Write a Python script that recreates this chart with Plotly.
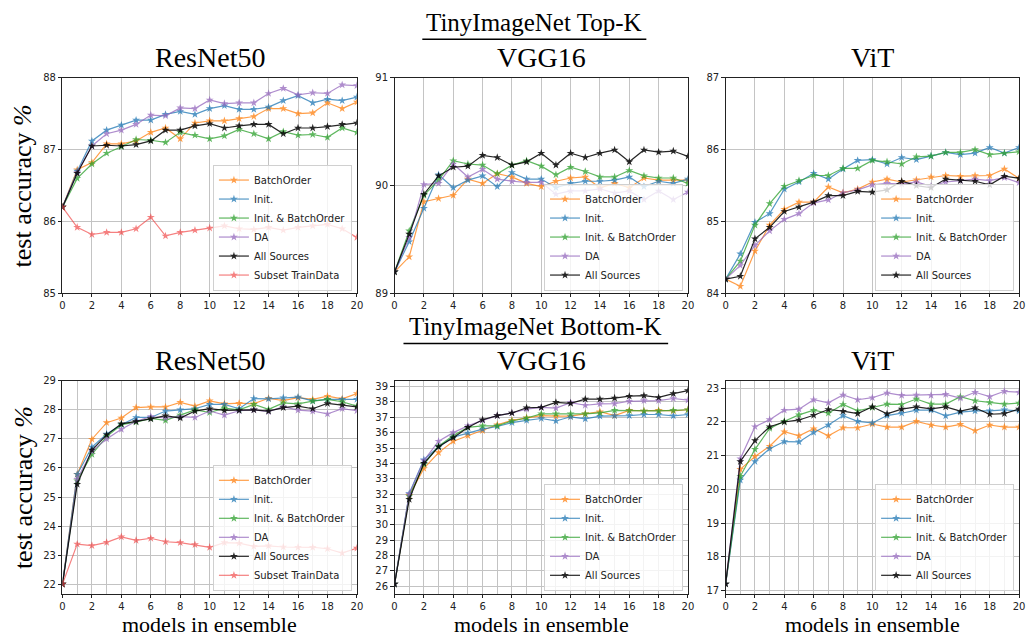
import plotly.graph_objects as go

W, H = 1032, 639
models = list(range(21))

# ---------------- TinyImageNet Top-K ----------------
top_resnet_batchorder = [86.20, 86.72, 86.82, 87.08, 87.08, 87.12, 87.24, 87.30, 87.15, 87.37, 87.40,
                         87.40, 87.43, 87.46, 87.57, 87.57, 87.50, 87.51, 87.65, 87.57, 87.66]
top_resnet_init = [86.20, 86.70, 87.12, 87.27, 87.34, 87.41, 87.41, 87.49, 87.53, 87.49, 87.57,
                   87.61, 87.56, 87.56, 87.59, 87.68, 87.75, 87.65, 87.70, 87.68, 87.73]
top_resnet_init_batch = [86.20, 86.60, 86.80, 86.95, 87.04, 87.14, 87.13, 87.10, 87.24, 87.20, 87.15,
                         87.19, 87.28, 87.22, 87.15, 87.25, 87.20, 87.21, 87.17, 87.30, 87.24]
top_resnet_da = [86.20, 86.68, 87.05, 87.22, 87.27, 87.35, 87.48, 87.47, 87.58, 87.57, 87.69,
                 87.64, 87.65, 87.65, 87.78, 87.85, 87.76, 87.79, 87.78, 87.90, 87.89]
top_resnet_all = [86.20, 86.67, 87.05, 87.06, 87.05, 87.07, 87.12, 87.27, 87.27, 87.33, 87.36,
                  87.30, 87.33, 87.35, 87.35, 87.22, 87.30, 87.30, 87.32, 87.35, 87.37]
top_resnet_subset = [86.20, 85.92, 85.82, 85.85, 85.85, 85.90, 86.06, 85.80, 85.85, 85.88, 85.91,
                     85.94, 85.90, 85.89, 85.92, 85.88, 85.92, 85.94, 85.96, 85.90, 85.78]

top_vgg_batchorder = [89.20, 89.34, 89.85, 89.88, 89.91, 90.06, 90.02, 90.11, 90.08, 90.02, 89.99,
                      90.04, 90.07, 90.08, 89.98, 90.02, 89.98, 90.07, 90.05, 90.05, 90.05]
top_vgg_init = [89.20, 89.48, 89.79, 90.10, 89.98, 90.05, 90.09, 89.99, 90.12, 90.06, 90.06,
                89.98, 90.02, 90.04, 90.04, 90.05, 90.08, 89.99, 90.04, 90.02, 90.06]
top_vgg_init_batch = [89.20, 89.58, 89.91, 90.05, 90.23, 90.20, 90.19, 90.11, 90.19, 90.23, 90.18,
                      90.10, 90.17, 90.13, 90.08, 90.08, 90.14, 90.09, 90.07, 90.07, 90.02]
top_vgg_da = [89.20, 89.52, 90.01, 90.02, 90.20, 90.08, 90.15, 90.06, 90.04, 90.03, 90.03,
              89.92, 89.95, 89.95, 89.97, 89.93, 89.95, 89.87, 89.95, 89.87, 89.94]
top_vgg_all = [89.20, 89.55, 89.92, 90.09, 90.17, 90.18, 90.28, 90.26, 90.19, 90.22, 90.30,
               90.19, 90.30, 90.26, 90.30, 90.33, 90.22, 90.33, 90.31, 90.32, 90.27]

top_vit_batchorder = [84.20, 84.10, 84.59, 84.95, 85.17, 85.27, 85.27, 85.48, 85.40, 85.45, 85.55,
                      85.59, 85.55, 85.58, 85.62, 85.64, 85.63, 85.64, 85.64, 85.73, 85.60]
top_vit_init = [84.20, 84.55, 84.99, 85.11, 85.45, 85.55, 85.67, 85.59, 85.73, 85.85, 85.86,
                85.80, 85.89, 85.86, 85.91, 85.96, 85.93, 85.95, 86.03, 85.95, 86.03]
top_vit_init_batch = [84.20, 84.45, 84.95, 85.25, 85.49, 85.57, 85.64, 85.64, 85.74, 85.74, 85.85,
                      85.83, 85.80, 85.90, 85.91, 85.96, 85.96, 86.00, 85.93, 85.95, 85.97]
top_vit_da = [84.20, 84.39, 84.67, 84.87, 85.03, 85.11, 85.26, 85.30, 85.40, 85.44, 85.51,
              85.53, 85.52, 85.55, 85.49, 85.55, 85.57, 85.59, 85.57, 85.61, 85.54]
top_vit_all = [84.20, 84.24, 84.76, 84.92, 85.14, 85.20, 85.27, 85.36, 85.36, 85.42, 85.41,
               85.44, 85.56, 85.50, 85.47, 85.59, 85.57, 85.56, 85.51, 85.63, 85.60]

# ---------------- TinyImageNet Bottom-K ----------------
bot_resnet_batchorder = [22.00, 25.78, 26.99, 27.56, 27.72, 28.08, 28.10, 28.10, 28.26, 28.13, 28.31,
                         28.21, 28.23, 28.21, 28.40, 28.32, 28.42, 28.36, 28.47, 28.38, 28.56]
bot_resnet_init = [22.00, 25.78, 26.72, 27.17, 27.49, 27.74, 27.74, 27.96, 28.00, 28.04, 28.19,
                   28.19, 28.04, 28.39, 28.38, 28.42, 28.44, 28.31, 28.36, 28.36, 28.36]
bot_resnet_init_batch = [22.00, 25.56, 26.47, 27.08, 27.49, 27.58, 27.71, 27.64, 27.82, 28.00, 27.91,
                         28.06, 28.00, 28.19, 28.02, 28.24, 28.21, 28.30, 28.36, 28.28, 28.13]
bot_resnet_da = [22.00, 25.61, 26.58, 27.00, 27.33, 27.61, 27.77, 27.72, 27.77, 27.74, 27.96,
                 27.82, 27.97, 28.00, 27.94, 28.11, 27.99, 27.96, 27.86, 28.04, 27.97]
bot_resnet_all = [22.00, 25.44, 26.62, 27.14, 27.52, 27.60, 27.69, 27.80, 27.72, 27.96, 28.04,
                  27.98, 27.98, 28.00, 27.96, 28.08, 28.13, 28.04, 28.22, 28.17, 28.10]
bot_resnet_subset = [22.00, 23.38, 23.33, 23.44, 23.63, 23.51, 23.58, 23.46, 23.43, 23.36, 23.27,
                     23.43, 23.41, 23.30, 23.32, 23.28, 23.27, 23.27, 23.22, 23.07, 23.24]

bot_vgg_batchorder = [26.15, 31.93, 33.67, 34.70, 35.44, 35.81, 36.13, 36.51, 36.80, 36.97, 37.11,
                      37.07, 37.07, 37.22, 37.36, 37.11, 37.45, 37.41, 37.45, 37.41, 37.49]
bot_vgg_init = [26.15, 32.04, 34.24, 35.08, 35.71, 35.98, 36.23, 36.40, 36.65, 36.80, 36.92,
                36.76, 37.03, 36.90, 37.07, 37.09, 37.11, 37.18, 37.18, 37.09, 37.18]
bot_vgg_init_batch = [26.15, 31.87, 33.93, 35.12, 35.81, 36.34, 36.44, 36.44, 36.76, 36.95, 37.22,
                      37.22, 37.22, 37.22, 37.28, 37.45, 37.43, 37.41, 37.41, 37.45, 37.49]
bot_vgg_da = [26.15, 32.00, 34.18, 35.44, 36.00, 36.44, 36.80, 37.11, 37.28, 37.53, 37.64,
              37.60, 37.95, 37.78, 37.87, 37.89, 38.04, 38.08, 38.08, 38.22, 38.12]
bot_vgg_all = [26.15, 31.66, 34.01, 35.08, 35.67, 36.34, 36.84, 37.11, 37.28, 37.62, 37.64,
               37.97, 37.91, 38.18, 38.18, 38.25, 38.37, 38.41, 38.29, 38.54, 38.73]

bot_vit_batchorder = [17.20, 20.60, 20.98, 21.28, 21.71, 21.59, 21.80, 21.59, 21.83, 21.83, 21.94,
                      21.85, 21.85, 22.02, 21.91, 21.85, 21.93, 21.74, 21.91, 21.85, 21.85]
bot_vit_init = [17.20, 20.28, 20.83, 21.21, 21.42, 21.41, 21.69, 21.91, 22.19, 22.02, 21.97,
                22.19, 22.26, 22.35, 22.35, 22.18, 22.29, 22.33, 22.33, 22.36, 22.33]
bot_vit_init_batch = [17.20, 20.39, 21.19, 21.81, 22.02, 22.21, 22.35, 22.26, 22.52, 22.33, 22.43,
                      22.53, 22.52, 22.68, 22.53, 22.53, 22.75, 22.63, 22.58, 22.53, 22.56]
bot_vit_da = [17.20, 20.91, 21.86, 22.07, 22.35, 22.38, 22.66, 22.57, 22.80, 22.66, 22.72,
              22.86, 22.79, 22.80, 22.79, 22.82, 22.71, 22.88, 22.75, 22.91, 22.88]
bot_vit_all = [17.20, 20.83, 21.45, 21.86, 22.00, 22.06, 22.20, 22.37, 22.32, 22.25, 22.45,
               22.24, 22.38, 22.45, 22.39, 22.45, 22.32, 22.42, 22.23, 22.25, 22.38]

series_names = ["BatchOrder", "Init.", "Init. & BatchOrder", "DA", "All Sources", "Subset TrainData"]
series_colors = ["#ff7f0e", "#1f77b4", "#2ca02c", "#9467bd", "#000000", "#f03c3c"]
series_opacity = [0.75, 0.75, 0.75, 0.75, 0.85, 0.65]

panel_titles = ["ResNet50", "VGG16", "ViT", "ResNet50", "VGG16", "ViT"]
panel_series = [
    [top_resnet_batchorder, top_resnet_init, top_resnet_init_batch, top_resnet_da, top_resnet_all, top_resnet_subset],
    [top_vgg_batchorder, top_vgg_init, top_vgg_init_batch, top_vgg_da, top_vgg_all],
    [top_vit_batchorder, top_vit_init, top_vit_init_batch, top_vit_da, top_vit_all],
    [bot_resnet_batchorder, bot_resnet_init, bot_resnet_init_batch, bot_resnet_da, bot_resnet_all, bot_resnet_subset],
    [bot_vgg_batchorder, bot_vgg_init, bot_vgg_init_batch, bot_vgg_da, bot_vgg_all],
    [bot_vit_batchorder, bot_vit_init, bot_vit_init_batch, bot_vit_da, bot_vit_all],
]
panel_yrange = [[85, 88], [89, 91], [84, 87], [21.67, 29.0], [25.52, 39.37], [16.91, 23.22]]

# axis boxes in pixels: (left, right) per column, (top, bottom) per row
col_px = [(60, 357), (395, 691), (729, 1025)]
row_px = [(73, 293), (382, 599)]


def px_x(p):
    return p / W


def px_y(p):
    return 1 - p / H


fig = go.Figure()
layout = dict(
    width=W, height=H, margin=dict(l=0, r=0, t=0, b=0),
    paper_bgcolor="white", plot_bgcolor="white", showlegend=True,
    annotations=[], shapes=[],
)

serif = "Liberation Serif, Times New Roman, serif"
sans = "DejaVu Sans, sans-serif"
grid_col = "#c4c4c4"

for i in range(6):
    r, c = divmod(i, 3)
    n = i + 1
    xa = "x" if n == 1 else f"x{n}"
    ya = "y" if n == 1 else f"y{n}"
    leg = "legend" if n == 1 else f"legend{n}"
    left, right = col_px[c]
    top, bottom = row_px[r]

    for k, ys in enumerate(panel_series[i]):
        fig.add_trace(go.Scatter(
            x=models, y=ys, mode="lines+markers", name=series_names[k],
            line=dict(color=series_colors[k], width=1.2),
            marker=dict(symbol="star", size=6, color=series_colors[k], line=dict(width=0)),
            opacity=series_opacity[k], xaxis=xa, yaxis=ya, legend=leg,
        ))

    xaxis = dict(
        domain=[px_x(left), px_x(right)], anchor=ya, range=[0, 20],
        tickmode="linear", tick0=0, dtick=2, ticks="outside", ticklen=3, tickwidth=1,
        tickcolor="#222", showline=True, linecolor="#222", linewidth=1, mirror=True,
        showgrid=True, gridcolor=grid_col, gridwidth=1, zeroline=False,
        tickfont=dict(family=sans, size=10, color="#222"),
    )
    if r == 1:
        xaxis["minor"] = dict(dtick=1, showgrid=True, gridcolor=grid_col, gridwidth=1)
    yaxis = dict(
        domain=[px_y(bottom), px_y(top)], anchor=xa, range=panel_yrange[i],
        tickmode="linear", tick0=0, dtick=1, ticks="outside", ticklen=3.5, tickwidth=1,
        tickcolor="#222", showline=True, linecolor="#222", linewidth=1, mirror=True,
        showgrid=True, gridcolor=grid_col, gridwidth=1, zeroline=False,
        tickfont=dict(family=sans, size=10, color="#222"),
    )
    layout["xaxis" if n == 1 else f"xaxis{n}"] = xaxis
    layout["yaxis" if n == 1 else f"yaxis{n}"] = yaxis

    layout[leg] = dict(
        x=px_x(right - 5), y=px_y(bottom - 3), xanchor="right", yanchor="bottom",
        bgcolor="rgba(255,255,255,0.8)", bordercolor="#d0d0d0", borderwidth=1,
        font=dict(family=sans, size=10, color="#222"), itemwidth=30,
        tracegroupgap=0,
    )

    # panel title
    layout["annotations"].append(dict(
        text=panel_titles[i], x=px_x((left + right) / 2), y=px_y(top - 21),
        xref="paper", yref="paper", showarrow=False, xanchor="center", yanchor="middle",
        font=dict(family=serif, size=28, color="black"),
    ))

# y-axis titles for each row
for top, bottom in row_px:
    layout["annotations"].append(dict(
        text="test accuracy <i>%</i>", x=px_x(20), y=px_y((top + bottom) / 2),
        xref="paper", yref="paper", showarrow=False, textangle=-90,
        xanchor="center", yanchor="middle",
        font=dict(family=serif, size=26, color="black"),
    ))

# x-axis titles under the bottom row (no descenders, so the box may sit below the edge)
for left, right in col_px:
    layout["annotations"].append(dict(
        text="models in ensemble", x=px_x((left + right) / 2), y=0, yshift=-5,
        xref="paper", yref="paper", showarrow=False, xanchor="center", yanchor="bottom",
        borderpad=0, font=dict(family=serif, size=22, color="black"),
    ))

# row headings with underline
row_headings = [("TinyImageNet Top-K", 17, 34, 423, 649),
                ("TinyImageNet Bottom-K", 327, 344, 404, 671)]
for text, ty, uy, ux0, ux1 in row_headings:
    layout["annotations"].append(dict(
        text=text, x=px_x((ux0 + ux1) / 2), y=px_y(ty),
        xref="paper", yref="paper", showarrow=False, xanchor="center", yanchor="middle",
        borderpad=0, font=dict(family=serif, size=25, color="black"),
    ))
    layout["shapes"].append(dict(
        type="line", xref="paper", yref="paper",
        x0=px_x(ux0), x1=px_x(ux1), y0=px_y(uy), y1=px_y(uy),
        line=dict(color="black", width=1.5),
    ))

fig.update_layout(**layout)
fig.write_html("out.html")
